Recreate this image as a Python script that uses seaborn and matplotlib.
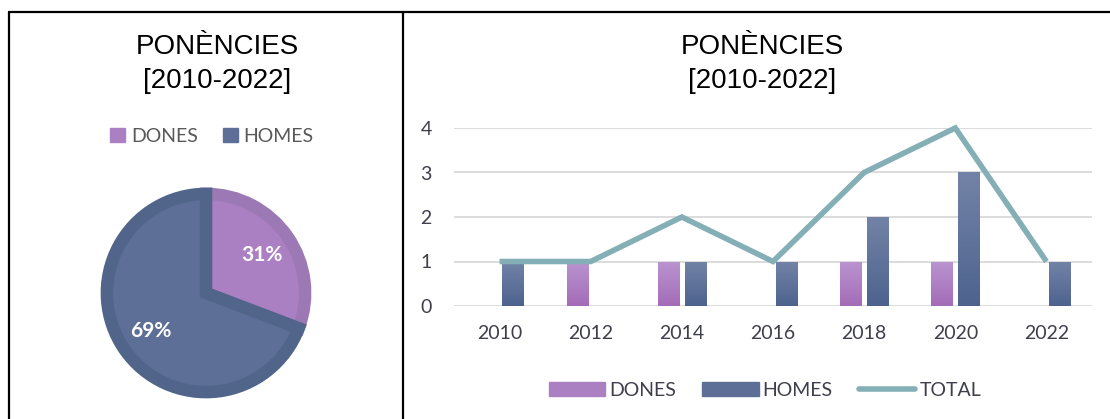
import numpy as np
import pandas as pd
import matplotlib
matplotlib.use("Agg")
import matplotlib.pyplot as plt
from matplotlib.patches import Patch
from matplotlib.lines import Line2D
import matplotlib.colors as mcolors
import seaborn as sns

years = ["2010", "2012", "2014", "2016", "2018", "2020", "2022"]
dones = [0, 1, 1, 0, 1, 1, 0]
homes = [1, 0, 1, 1, 2, 3, 1]
total = [1, 1, 2, 1, 3, 4, 1]
pie_labels = ["DONES", "HOMES"]
pie_values = [sum(dones), sum(homes)]
title = "PONÈNCIES\n[2010-2022]"

C_DONES = "#AB80C3"
C_DONES_EDGE = "#9C79B4"
C_HOMES = "#5D6F97"
C_HOMES_EDGE = "#506589"
C_TOTAL = "#84AFB6"
TXT = "#3F3F4C"

sns.set_style("white")
plt.rcParams["font.family"] = ["Lato", "DejaVu Sans"]

W, H = 1110, 419
fig = plt.figure(figsize=(W / 100, H / 100), dpi=100)

def fx(px):
    return px / W

def fy(py):
    return 1 - py / H

# panel borders
lw_b = 1.6
fig.add_artist(Line2D([fx(9), fx(9)], [-0.1, fy(12)], color="black", lw=lw_b, transform=fig.transFigure))
fig.add_artist(Line2D([fx(9), 1.1], [fy(12), fy(12)], color="black", lw=lw_b, transform=fig.transFigure))
fig.add_artist(Line2D([fx(403), fx(403)], [-0.1, fy(12)], color="black", lw=lw_b, transform=fig.transFigure))

# ---------- pie ----------
cx, cy, r = 206, 293, 106
axp = fig.add_axes([fx(cx - r), fy(cy + r), fx(2 * r), (2 * r) / H])
wedges, texts, autotexts = axp.pie(
    pie_values, colors=[C_DONES, C_HOMES], startangle=90, counterclock=False,
    radius=0.935, autopct=lambda p: f"{p:.0f}%", pctdistance=0.68,
    wedgeprops=dict(linewidth=9, joinstyle="miter"),
    textprops=dict(color="white", fontsize=15, fontweight="bold"))
wedges[0].set_edgecolor(C_DONES_EDGE)
wedges[1].set_edgecolor(C_HOMES_EDGE)
axp.set_xlim(-1, 1)
axp.set_ylim(-1, 1)
axp.set_aspect("equal")
axp.axis("off")

fig.text(fx(217), fy(63.5), title, ha="center", va="center", fontsize=20,
         family="Liberation Sans", color="black", linespacing=1.4)

fig.legend(handles=[Patch(color=C_DONES, label=pie_labels[0]),
                    Patch(color=C_HOMES, label=pie_labels[1])],
           loc="center", bbox_to_anchor=(fx(212), fy(136)), ncol=2, frameon=False,
           fontsize=14, handlelength=0.75, handleheight=0.75, handletextpad=0.3,
           columnspacing=1.3, labelcolor="#595959")

# ---------- bars + line ----------
df = pd.DataFrame({
    "year": years * 2,
    "value": dones + homes,
    "serie": ["DONES"] * len(years) + ["HOMES"] * len(years),
})
dft = pd.DataFrame({"year": years, "total": total})

ax = fig.add_axes([fx(454), fy(306), fx(1092) - fx(454), (306 - 128) / H])
sns.barplot(data=df, x="year", y="value", hue="serie", order=years,
            hue_order=["DONES", "HOMES"], palette=[C_DONES, C_HOMES], saturation=1,
            width=0.58, gap=0.2, ax=ax, legend=False, errorbar=None, linewidth=0)

# vertical gradient on bars
grads = {
    mcolors.to_hex(C_DONES): ("#B994CF", "#A46CB8"),
    mcolors.to_hex(C_HOMES): ("#7383A7", "#4D638E"),
}
for p in list(ax.patches):
    h = p.get_height()
    if h <= 0:
        continue
    key = mcolors.to_hex(p.get_facecolor())
    top, bot = grads.get(key, (key, key))
    cmap = mcolors.LinearSegmentedColormap.from_list("g", [bot, top])
    x0 = p.get_x()
    w = p.get_width()
    grad = np.linspace(0, 1, 64).reshape(-1, 1)
    im = ax.imshow(grad, cmap=cmap, aspect="auto", origin="lower",
                   extent=[x0, x0 + w, 0, h], zorder=p.get_zorder() + 0.1)
    im.set_clip_path(p)

sns.pointplot(data=dft, x="year", y="total", order=years, ax=ax, color=C_TOTAL,
              marker="", linewidth=4, errorbar=None, clip_on=False, zorder=5)
for ln in ax.lines:
    ln.set_solid_capstyle("butt")
    ln.set_solid_joinstyle("miter")
    ln.set_clip_on(False)

ax.set_xlim(-0.5, len(years) - 0.5)
ax.set_ylim(0, 4)
ax.set_yticks([0, 1, 2, 3, 4])
ax.grid(axis="y", color="#D9D9D9", lw=1.3)
ax.set_axisbelow(True)
for s in ax.spines.values():
    s.set_visible(False)
ax.set_xlabel("")
ax.set_ylabel("")
ax.tick_params(axis="y", length=0, pad=16, labelsize=14, labelcolor=TXT)
ax.tick_params(axis="x", length=0, pad=14, labelsize=14, labelcolor=TXT)

fig.text(fx(762), fy(63.5), title, ha="center", va="center", fontsize=20,
         family="Liberation Sans", color="black", linespacing=1.4)

fig.legend(handles=[Patch(color=C_DONES, label="DONES"),
                    Patch(color=C_HOMES, label="HOMES"),
                    Line2D([0], [0], color=C_TOTAL, lw=4, solid_capstyle="round", label="TOTAL")],
           loc="center", bbox_to_anchor=(fx(765), fy(390)), ncol=3, frameon=False,
           fontsize=14, handlelength=2.9, handleheight=0.7, handletextpad=0.2,
           columnspacing=1.35, labelcolor=TXT)

fig.savefig("out.png", dpi=100)
